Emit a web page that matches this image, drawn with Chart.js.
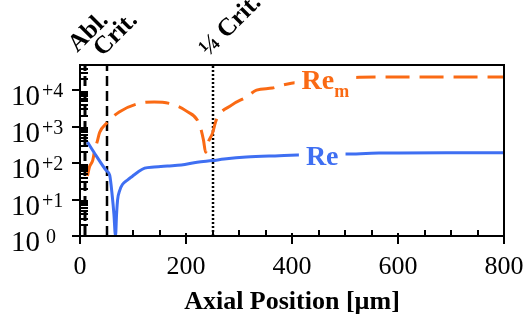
<!DOCTYPE html>
<html>
<head>
<meta charset="utf-8">
<script src="https://cdn.jsdelivr.net/npm/chart.js@4.4.1/dist/chart.umd.min.js"></script>
<style>
  body { margin: 0; background: #fff; }
</style>
</head>
<body>
<canvas id="chart" width="525" height="324"></canvas>
<script>
// Re (blue, solid)
const reX = [14, 30, 50, 56, 61, 64, 67, 69, 71, 75, 80, 90, 99, 110, 122, 140, 165, 191, 221, 250, 272, 314, 376, 410, 502, 564, 691, 800];
const reVal = [380, 165, 62, 47, 12, 4, 1, 4, 10, 18, 26, 35, 44, 58, 73, 79, 84, 89, 106, 118, 130, 148, 161, 168, 178, 190, 195, 195];
// Re_m (orange, dashed)
const remX = [14, 18, 24, 27, 33, 37, 50, 74, 116, 140, 174, 201, 225, 233, 237, 242, 250, 257, 286, 314, 333, 363, 382, 414, 489, 527, 658, 800];
const remVal = [45, 80, 120, 200, 420, 700, 1250, 2570, 4550, 4800, 4200, 2700, 1200, 430, 200, 380, 670, 1530, 3960, 6600, 10200, 11600, 14000, 17000, 21000, 23000, 23500, 23400];

const yPowers = [0, 1, 2, 3, 4];
const xTicks = [0, 200, 400, 600, 800];
const markerX = [10, 50, 250];
const markerText = ['Abl.', 'Crit.', '¼ Crit.'];

const BLUE = '#3f6ff2';
const ORANGE = '#fa6a14';
const serif = '"Liberation Serif", "Times New Roman", serif';
Chart.defaults.font.family = serif;

function seriesTag(ctx, text, sub, cx, by, color) {
  ctx.font = 'bold 28px ' + serif;
  const w1 = ctx.measureText(text).width;
  ctx.font = 'bold 18px ' + serif;
  const w2 = sub ? ctx.measureText(sub).width : 0;
  const x0 = cx - (w1 + w2) / 2;
  ctx.fillStyle = '#fff';
  ctx.fillRect(x0 - 7, by - 22, w1 + w2 + 14, 30);
  ctx.fillStyle = color;
  ctx.font = 'bold 28px ' + serif;
  ctx.fillText(text, x0, by);
  if (sub) {
    ctx.font = 'bold 18px ' + serif;
    ctx.fillText(sub, x0 + w1, by + 8);
  }
}

const decor = {
  id: 'decor',
  beforeDatasetsDraw(chart) {
    const { ctx, chartArea: a, scales: { x } } = chart;
    ctx.save();
    ctx.strokeStyle = '#000';
    markerX.forEach((m, i) => {
      const px = Math.round(x.getPixelForValue(m));
      ctx.lineWidth = i === 0 ? 3 : 2.5;
      ctx.setLineDash(i === 2 ? [2, 2] : [10, 5]);
      ctx.beginPath();
      ctx.moveTo(px, a.bottom);
      ctx.lineTo(px, a.top);
      ctx.stroke();
    });
    ctx.restore();
  },
  afterDatasetsDraw(chart) {
    const { ctx, scales: { x, y } } = chart;
    ctx.save();
    ctx.textAlign = 'left';
    ctx.textBaseline = 'alphabetic';
    seriesTag(ctx, 'Re', '', x.getPixelForValue(457), y.getPixelForValue(89), BLUE);
    seriesTag(ctx, 'Re', 'm', x.getPixelForValue(463), y.getPixelForValue(11000), ORANGE);
    ctx.restore();
  },
  afterDraw(chart) {
    const { ctx, chartArea: a, scales: { x, y } } = chart;
    ctx.save();
    ctx.strokeStyle = '#000';
    ctx.lineWidth = 2;
    ctx.strokeRect(a.left, a.top, a.right - a.left, a.bottom - a.top);

    ctx.beginPath();
    // y ticks
    yPowers.forEach(p => {
      const py = Math.round(y.getPixelForValue(Math.pow(10, p)));
      ctx.moveTo(a.left - 8, py);
      ctx.lineTo(a.left, py);
      for (let k = 2; k <= 9; k++) {
        const v = k * Math.pow(10, p);
        if (v > y.max) break;
        const pm = Math.round(y.getPixelForValue(v));
        ctx.moveTo(a.left, pm);
        ctx.lineTo(a.left + 8, pm);
      }
    });
    // x ticks
    xTicks.forEach(t => {
      const px = Math.round(x.getPixelForValue(t));
      ctx.moveTo(px, a.bottom - 3);
      ctx.lineTo(px, a.bottom + 8);
    });
    for (let t = 50; t < 800; t += 50) {
      if (t % 200 === 0) continue;
      const px = Math.round(x.getPixelForValue(t));
      ctx.moveTo(px, a.bottom);
      ctx.lineTo(px, a.bottom - 6);
    }
    ctx.stroke();

    // y tick labels with superscripts
    ctx.fillStyle = '#000';
    ctx.textAlign = 'left';
    ctx.textBaseline = 'alphabetic';
    yPowers.forEach(p => {
      const py = y.getPixelForValue(Math.pow(10, p));
      ctx.font = '29px ' + serif;
      ctx.fillText('10', 11, py + 15);
      ctx.font = '20px ' + serif;
      ctx.fillText(p === 0 ? '0' : '+' + p, p === 0 ? 46 : 42, py + 7);
    });

    // rotated marker labels (first one nudged left so it clears "Crit.")
    ctx.font = 'bold 25px ' + serif;
    markerX.forEach((m, i) => {
      const px = x.getPixelForValue(m);
      const dx = i === 0 ? -8 : -4;
      const dy = i === 0 ? -12 : -8;
      ctx.save();
      ctx.translate(px + dx, a.top + dy);
      ctx.rotate(-45 * Math.PI / 180);
      ctx.fillText(markerText[i], 0, 0);
      ctx.restore();
    });
    ctx.restore();
  }
};

new Chart(document.getElementById('chart'), {
  type: 'line',
  data: {
    datasets: [{
      label: 'Re',
      data: reX.map((v, i) => ({ x: v, y: reVal[i] })),
      borderColor: BLUE,
      borderWidth: 3,
      pointRadius: 0,
      cubicInterpolationMode: 'monotone'
    }, {
      label: 'Re_m',
      data: remX.map((v, i) => ({ x: v, y: remVal[i] })),
      borderColor: ORANGE,
      borderWidth: 3,
      borderDash: [24, 10],
      pointRadius: 0,
      cubicInterpolationMode: 'monotone'
    }]
  },
  options: {
    responsive: false,
    animation: false,
    layout: { padding: { top: 65, right: 21, left: 0, bottom: 0 } },
    plugins: { legend: { display: false }, tooltip: { enabled: false } },
    scales: {
      x: {
        type: 'linear',
        min: 0,
        max: 800,
        grid: { display: false, drawTicks: false },
        border: { display: false },
        ticks: { stepSize: 200, color: '#000', font: { size: 26 }, padding: 16, maxRotation: 0 },
        title: {
          display: true,
          text: 'Axial Position [µm]',
          color: '#000',
          font: { size: 26, weight: 'bold' },
          padding: { top: 0, bottom: 6 }
        },
        afterFit(s) { s.height = 88; s.paddingLeft = 0; s.paddingRight = 0; }
      },
      y: {
        type: 'logarithmic',
        min: 1,
        max: 50000,
        grid: { display: false },
        border: { display: false },
        ticks: { display: false },
        afterFit(s) { s.width = 80; }
      }
    }
  },
  plugins: [decor]
});
</script>
</body>
</html>
